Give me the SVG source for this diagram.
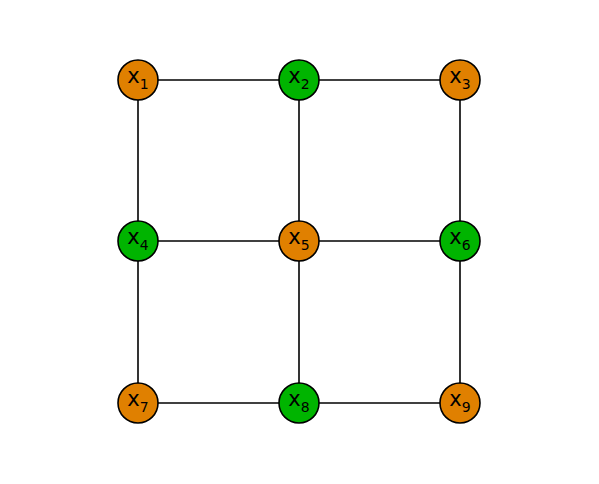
<svg xmlns="http://www.w3.org/2000/svg" width="599" height="484" viewBox="0 0 599 484">
<style>
.e{stroke:#000;stroke-width:1.6;fill:none}
.n{stroke:#000;stroke-width:1.6}
.o{fill:#e08000}
.g{fill:#00b400}
.t{font-family:"DejaVu Sans",sans-serif;font-size:21px;fill:#000;text-anchor:middle}
.s{font-size:14px}
</style>
<rect width="599" height="484" fill="#fff"/>
<g id="edges">
<line class="e" x1="138" y1="80" x2="460" y2="80"/>
<line class="e" x1="138" y1="241" x2="460" y2="241"/>
<line class="e" x1="138" y1="403" x2="460" y2="403"/>
<line class="e" x1="138" y1="80" x2="138" y2="403"/>
<line class="e" x1="299" y1="80" x2="299" y2="403"/>
<line class="e" x1="460" y1="80" x2="460" y2="403"/>
</g>
<g id="x1"><circle class="n o" cx="138" cy="80" r="20"/><text class="t" x="138" y="82.5">x<tspan class="s" dy="6">1</tspan></text></g>
<g id="x2"><circle class="n g" cx="299" cy="80" r="20"/><text class="t" x="299" y="82.5">x<tspan class="s" dy="6">2</tspan></text></g>
<g id="x3"><circle class="n o" cx="460" cy="80" r="20"/><text class="t" x="460" y="82.5">x<tspan class="s" dy="6">3</tspan></text></g>
<g id="x4"><circle class="n g" cx="138" cy="241" r="20"/><text class="t" x="138" y="243.5">x<tspan class="s" dy="6">4</tspan></text></g>
<g id="x5"><circle class="n o" cx="299" cy="241" r="20"/><text class="t" x="299" y="243.5">x<tspan class="s" dy="6">5</tspan></text></g>
<g id="x6"><circle class="n g" cx="460" cy="241" r="20"/><text class="t" x="460" y="243.5">x<tspan class="s" dy="6">6</tspan></text></g>
<g id="x7"><circle class="n o" cx="138" cy="403" r="20"/><text class="t" x="138" y="405.5">x<tspan class="s" dy="6">7</tspan></text></g>
<g id="x8"><circle class="n g" cx="299" cy="403" r="20"/><text class="t" x="299" y="405.5">x<tspan class="s" dy="6">8</tspan></text></g>
<g id="x9"><circle class="n o" cx="460" cy="403" r="20"/><text class="t" x="460" y="405.5">x<tspan class="s" dy="6">9</tspan></text></g>
</svg>
